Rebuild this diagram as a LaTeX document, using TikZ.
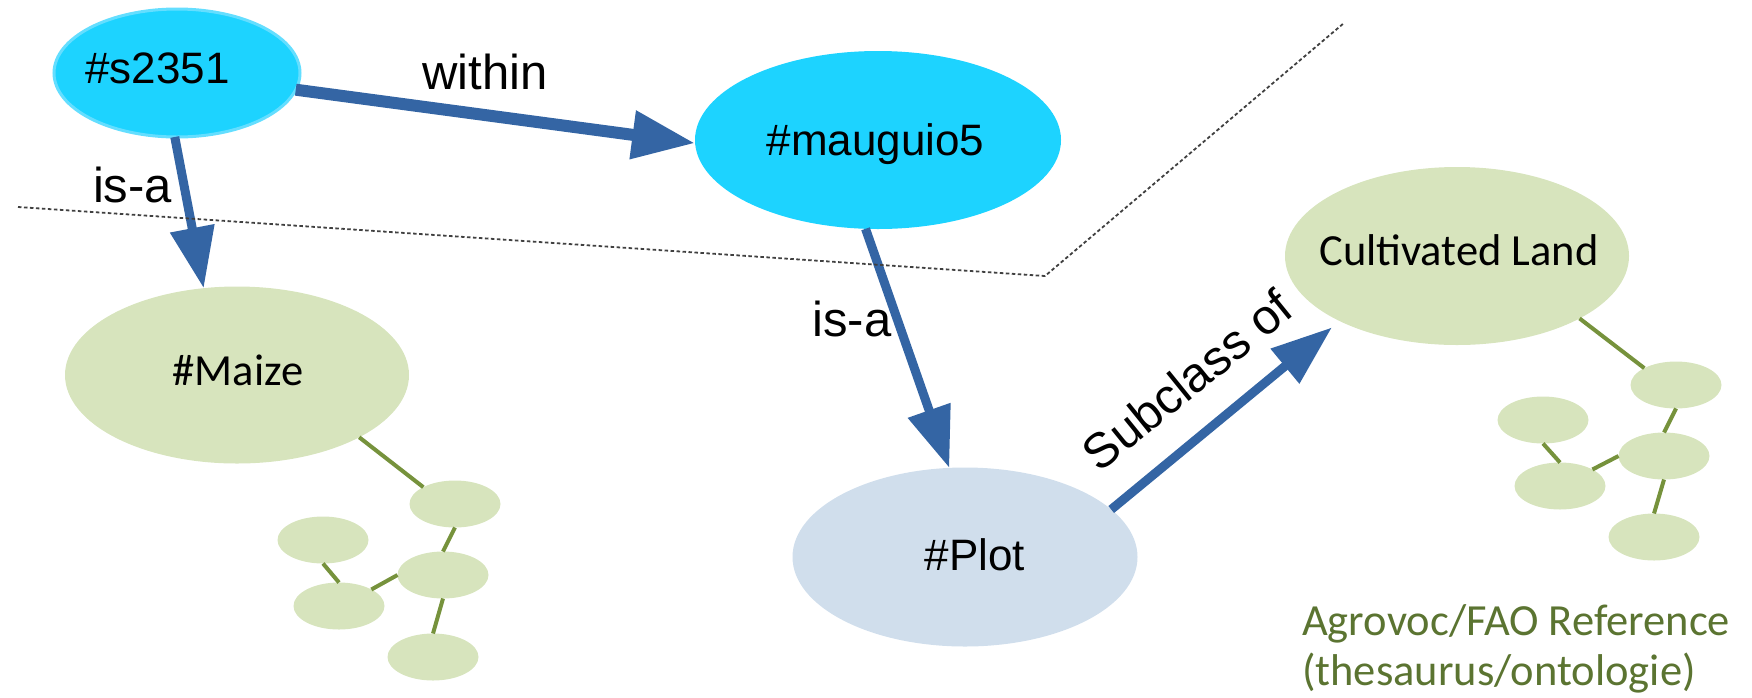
\documentclass[tikz,border=0pt]{standalone}
\usepackage{fontspec}
\setmainfont{Liberation Sans}
\newfontfamily\calfont{Carlito}
\usetikzlibrary{arrows.meta,shapes.geometric}

\definecolor{nodecyan}{RGB}{29,211,255}
\definecolor{nodecyanrim}{RGB}{100,222,255}
\definecolor{plotblue}{RGB}{208,222,236}
\definecolor{termgreen}{RGB}{215,228,189}
\definecolor{linkgreen}{RGB}{118,146,60}
\definecolor{refgreen}{RGB}{91,116,49}
\definecolor{relblue}{RGB}{52,101,164}

\begin{document}
\begin{tikzpicture}[x=1pt,y=-1pt,
  blob/.style={ellipse, inner sep=0pt, outer sep=0pt},
  instance/.style={blob, fill=nodecyan},
  term/.style={blob, fill=termgreen},
  leaf/.style={blob, fill=termgreen, minimum width=91pt, minimum height=47pt},
  sanslabel/.style={inner sep=0pt, font=\fontsize{44}{52}\selectfont},
  callabel/.style={inner sep=0pt, font=\calfont\fontsize{44.5}{52}\selectfont},
  rellabel/.style={inner sep=0pt, font=\fontsize{49}{58}\selectfont},
  relation/.style={draw=relblue, line width=9pt, -{Triangle[length=61pt,width=43pt]}},
  link/.style={draw=linkgreen, line width=4pt},
  boundary/.style={draw=black!75, line width=1.8pt, dash pattern=on 3.5pt off 2.5pt}
]
\useasboundingbox (0,0) rectangle (1752,697);

% instance nodes (top)
\node[instance, draw=nodecyanrim, line width=3pt, minimum width=246pt, minimum height=128pt] (s) at (177,73) {};
\node[instance, minimum width=366pt, minimum height=178pt] (m) at (878,140) {};

% class nodes
\node[term, minimum width=344pt, minimum height=177pt] (maize) at (237,375) {};
\node[blob, fill=plotblue, minimum width=345pt, minimum height=179pt] (plot) at (965,557) {};
\node[term, minimum width=344pt, minimum height=178pt] (cult) at (1457,256) {};

% small term clusters
\node[leaf] (e1) at (455,504) {};
\node[leaf] (e2) at (323,540) {};
\node[leaf] (e3) at (443,575) {};
\node[leaf] (e4) at (339,606) {};
\node[leaf] (e5) at (433,657) {};

\node[leaf] (f1) at (1676,385) {};
\node[leaf] (f2) at (1543,420) {};
\node[leaf] (f3) at (1664,456) {};
\node[leaf] (f4) at (1560,486) {};
\node[leaf] (f5) at (1654,537) {};

\draw[link] (maize.-27) -- (e1.152);
\draw[link] (e1.south) -- (e3.north);
\draw[link] (e2.south) -- (e4.north);
\draw[link] (e4.27) -- (e3.west);
\draw[link] (e3.south) -- (e5.north);

\draw[link] (cult.-27) -- (f1.152);
\draw[link] (f1.south) -- (f3.north);
\draw[link] (f2.south) -- (f4.north);
\draw[link] (f4.27) -- (f3.west);
\draw[link] (f3.south) -- (f5.north);

% relations
\draw[relation, line width=12pt, -{Triangle[length=63pt,width=46pt]}] (s.-8) -- (m.181);
\draw[relation] (s.-92) -- (maize.111);
\draw[relation] (m.-98) -- (plot.100.5);
\draw[relation, shorten >=10pt] (plot.18.8) -- (cult.-151);

% node texts
\node[sanslabel, anchor=base] (ts) at (157.5,83) {\#s2351};
\node[sanslabel, anchor=base] (tm) at (875.5,155) {\#mauguio5};
\node[sanslabel, anchor=base] (tp) at (975,570) {\#Plot};
\node[callabel, anchor=base] (tmaize) at (238,385) {\#Maize};
\node[callabel, anchor=base] (tcult) at (1459,265) {Cultivated Land};

% relation labels
\node[rellabel, anchor=base] (lwithin) at (485,89) {within};
\node[rellabel, anchor=base] (lisa1) at (132.5,202) {is-a};
\node[rellabel, anchor=base] (lisa2) at (852,336) {is-a};
\node[rellabel, rotate=39] (lsub) at (1187,380) {Subclass of};

% reference caption
\node[callabel, text=refgreen, anchor=base west] (ref1) at (1302,635) {Agrovoc/FAO Reference};
\node[callabel, text=refgreen, anchor=base west] (ref2) at (1302,685) {(thesaurus/ontologie)};

% boundary between instance level and ontology level
\coordinate (b1) at (18,207);
\coordinate (b2) at (1045,276);
\coordinate (b3) at (1344,23);
\draw[boundary] (b1) -- (b2) -- (b3);
\end{tikzpicture}
\end{document}
